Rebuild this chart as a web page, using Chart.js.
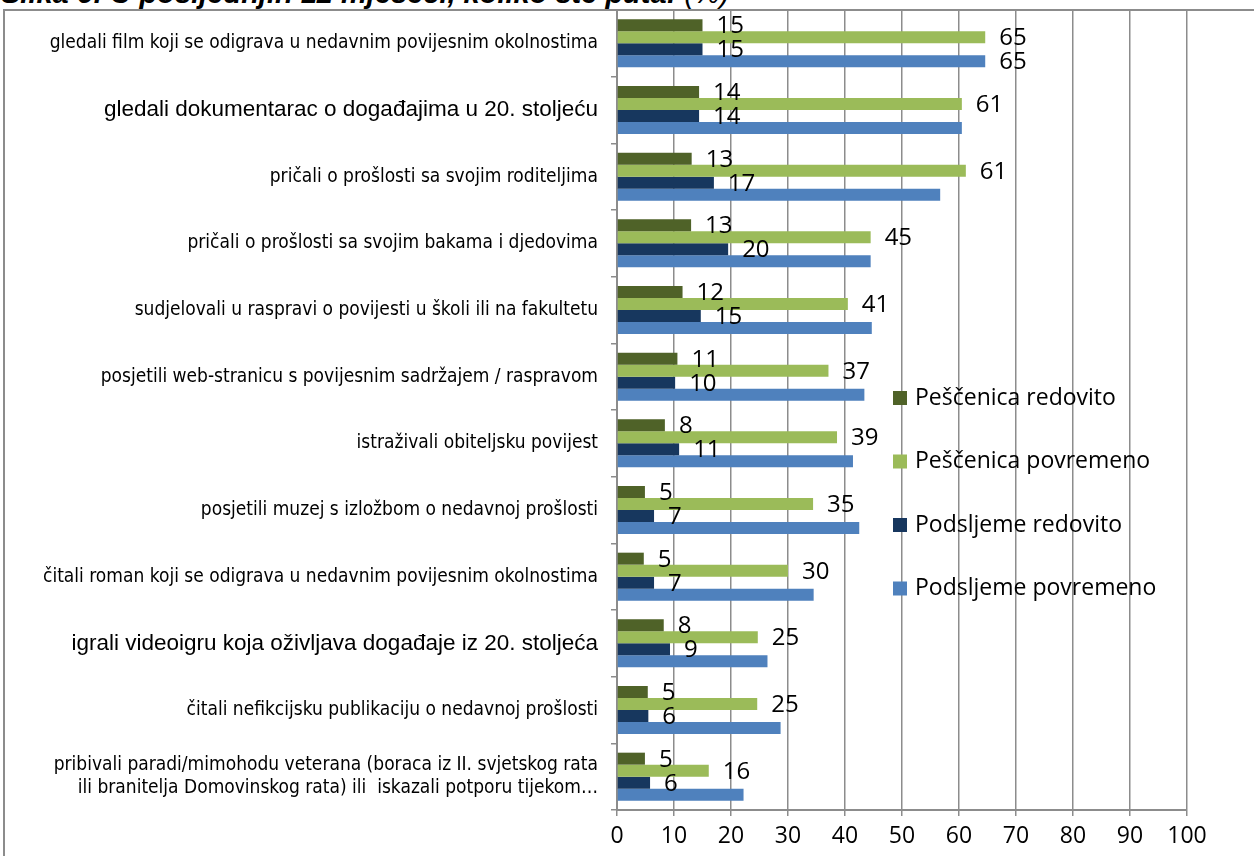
<!DOCTYPE html>
<html>
<head>
<meta charset="utf-8">
<script src="https://cdn.jsdelivr.net/npm/chart.js"></script>
<style>
  html, body { margin: 0; padding: 0; background: #fff; overflow: hidden; }
  #wrap { position: relative; width: 1254px; height: 856px; overflow: hidden; }
  #frame { position: absolute; left: 3px; top: 9px; width: 1300px; height: 900px; border: 2px solid #8c8c8c; }
  #naslov { position: absolute; left: 1px; top: -21px; font: italic bold 29px "Liberation Sans", Arial, sans-serif; white-space: nowrap; line-height: 1; }
  #naslov span { font-weight: normal; }
  canvas { position: absolute; left: 0; top: 0; }
</style>
</head>
<body>
<div id="wrap">
  <div id="frame"></div>
  <div id="naslov">Slika 6: U posljednjih 12 mjeseci, koliko ste puta: <span>(%)</span></div>
  <canvas id="grafikon" width="1254" height="856"></canvas>
</div>
<script>
// kategorije (odozgo prema dolje)
const kategorije = [
    'gledali film koji se odigrava u nedavnim povijesnim okolnostima',
    'gledali dokumentarac o događajima u 20. stoljeću',
    'pričali o prošlosti sa svojim roditeljima',
    'pričali o prošlosti sa svojim bakama i djedovima',
    'sudjelovali u raspravi o povijesti u školi ili na fakultetu',
    'posjetili web-stranicu s povijesnim sadržajem / raspravom',
    'istraživali obiteljsku povijest',
    'posjetili muzej s izložbom o nedavnoj prošlosti',
    'čitali roman koji se odigrava u nedavnim povijesnim okolnostima',
    'igrali videoigru koja oživljava događaje iz 20. stoljeća',
    'čitali nefikcijsku publikaciju o nedavnoj prošlosti',
    ['pribivali paradi/mimohodu veterana (boraca iz II. svjetskog rata', 'ili branitelja Domovinskog rata) ili  iskazali potporu tijekom…']
];

// vrijednosti (%)
const pescenicaRedovito  = [15, 14.4, 13.1, 13, 11.5, 10.6, 8.4, 4.9, 4.7, 8.2, 5.4, 4.9];
const pescenicaPovremeno = [64.6, 60.5, 61.2, 44.5, 40.5, 37.1, 38.6, 34.4, 30, 24.7, 24.6, 16.1];
const podsljemeRedovito  = [15, 14.4, 17, 19.5, 14.7, 10.2, 10.9, 6.5, 6.5, 9.3, 5.5, 5.8];
const podsljemePovremeno = [64.6, 60.5, 56.7, 44.5, 44.7, 43.4, 41.4, 42.5, 34.5, 26.4, 28.7, 22.2];

// oznake podataka kako su prikazane na slici
const oznPescenicaRedovito  = [15, 14, 13, 13, 12, 11, 8, 5, 5, 8, 5, 5];
const oznPescenicaPovremeno = [65, 61, 61, 45, 41, 37, 39, 35, 30, 25, 25, 16];
const oznPodsljemeRedovito  = [15, 14, 17, 20, 15, 10, 11, 7, 7, 9, 6, 6];
const oznPodsljemePovremeno = [65, null, null, null, null, null, null, null, null, null, null, null];

// x os
const xTickovi = [0, 10, 20, 30, 40, 50, 60, 70, 80, 90, 100];

const sivo = '#8c8c8c';
const brojFont = '"Open Sans", "Noto Sans", sans-serif';
const siroki = [1, 9]; // ova dva retka su na originalu u obicnom (sirem) fontu

// oznake na kraju stupaca
const oznakePlugin = {
    id: 'oznake',
    afterDatasetsDraw(chart) {
        const ctx = chart.ctx;
        ctx.save();
        ctx.fillStyle = '#000';
        ctx.font = '24px ' + brojFont;
        ctx.textAlign = 'left';
        ctx.textBaseline = 'middle';
        chart.data.datasets.forEach((ds, i) => {
            const meta = chart.getDatasetMeta(i);
            meta.data.forEach((bar, j) => {
                const t = ds.oznake[j];
                if (t === null || t === undefined) return;
                ctx.fillText(String(t), bar.x + 14, bar.y + 1);
            });
        });
        ctx.restore();
    }
};

// legenda desno, preko mreze
const legendaPlugin = {
    id: 'legenda',
    afterDraw(chart) {
        const ctx = chart.ctx;
        ctx.save();
        ctx.font = '23px ' + brojFont;
        ctx.textBaseline = 'middle';
        ctx.textAlign = 'left';
        chart.data.datasets.forEach((ds, i) => {
            const cy = 398 + i * 63.5;
            ctx.fillStyle = ds.backgroundColor;
            ctx.fillRect(893, cy - 7, 14, 14);
            ctx.fillStyle = '#000';
            ctx.fillText(ds.label, 915, cy);
        });
        ctx.restore();
    }
};

new Chart(document.getElementById('grafikon'), {
    type: 'bar',
    data: {
        labels: kategorije,
        datasets: [
            { label: 'Peščenica redovito', data: pescenicaRedovito, oznake: oznPescenicaRedovito, backgroundColor: '#4F6228' },
            { label: 'Peščenica povremeno', data: pescenicaPovremeno, oznake: oznPescenicaPovremeno, backgroundColor: '#9BBB59' },
            { label: 'Podsljeme redovito', data: podsljemeRedovito, oznake: oznPodsljemeRedovito, backgroundColor: '#17375E' },
            { label: 'Podsljeme povremeno', data: podsljemePovremeno, oznake: oznPodsljemePovremeno, backgroundColor: '#4F81BD' }
        ]
    },
    options: {
        indexAxis: 'y',
        responsive: false,
        devicePixelRatio: 1,
        animation: false,
        layout: { padding: { top: 10, right: 67, left: 0, bottom: 0 } },
        datasets: { bar: { categoryPercentage: 0.72, barPercentage: 1, borderWidth: 0 } },
        plugins: {
            legend: { display: false },
            title: { display: false },
            tooltip: { enabled: false }
        },
        scales: {
            x: {
                min: 0,
                max: 100,
                afterBuildTicks: s => { s.ticks = xTickovi.map(v => ({ value: v })); },
                afterFit: s => { s.height = 46; s.paddingLeft = 0; s.paddingRight = 0; },
                grid: { color: sivo, lineWidth: 1.5, tickLength: 6 },
                border: { color: sivo, width: 2 },
                ticks: { color: '#000', padding: 7, font: { family: brojFont, size: 23 } }
            },
            y: {
                afterFit: s => { s.width = 617; s.paddingTop = 0; s.paddingBottom = 0; },
                grid: { drawOnChartArea: false, color: sivo, lineWidth: 1.5, tickLength: 6, offset: true },
                border: { color: sivo, width: 2 },
                ticks: {
                    color: '#000',
                    padding: 13,
                    autoSkip: false,
                    font: c => siroki.includes(c.index)
                        ? { family: '"Liberation Sans", Arial, sans-serif', size: 22.5 }
                        : { family: '"Liberation Sans Narrow", "DejaVu Sans Condensed", "Liberation Sans", sans-serif', size: 19 }
                }
            }
        }
    },
    plugins: [oznakePlugin, legendaPlugin]
});
</script>
</body>
</html>
